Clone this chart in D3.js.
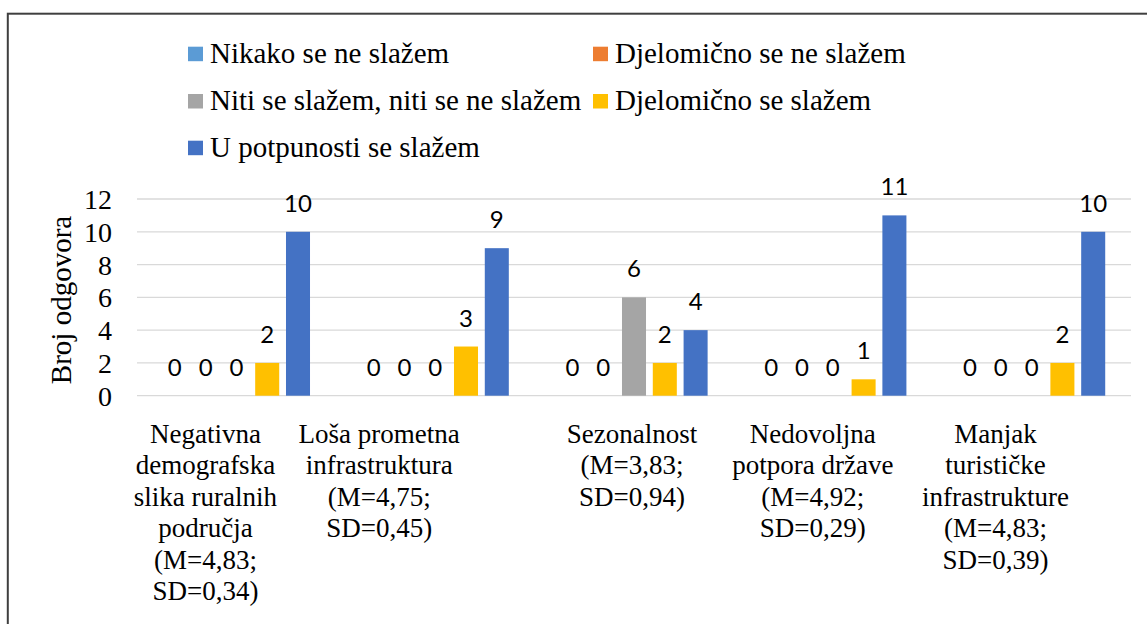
<!DOCTYPE html>
<html>
<head>
<meta charset="utf-8">
<script src="https://cdn.jsdelivr.net/npm/d3@7/dist/d3.min.js"></script>
<style>
  html, body { margin: 0; padding: 0; background: #fff; }
  svg { display: block; }
</style>
</head>
<body>
<div id="chart"></div>
<script>
// Categories (wrapped axis labels) and response counts per answer option
const categoryLines = [
  ["Negativna", "demografska", "slika ruralnih", "područja", "(M=4,83;", "SD=0,34)"],
  ["Loša prometna", "infrastruktura", "(M=4,75;", "SD=0,45)"],
  ["Sezonalnost", "(M=3,83;", "SD=0,94)"],
  ["Nedovoljna", "potpora države", "(M=4,92;", "SD=0,29)"],
  ["Manjak", "turističke", "infrastrukture", "(M=4,83;", "SD=0,39)"]
];
const categories = categoryLines.map(l => l.join(" "));

const seriesNames = [
  "Nikako se ne slažem",
  "Djelomično se ne slažem",
  "Niti se slažem, niti se ne slažem",
  "Djelomično se slažem",
  "U potpunosti se slažem"
];
const seriesColors = ["#5B9BD5", "#ED7D31", "#A5A5A5", "#FFC000", "#4472C4"];

const nikako      = [0, 0, 0, 0, 0];
const djelomNe    = [0, 0, 0, 0, 0];
const niti        = [0, 0, 6, 0, 0];
const djelomDa    = [2, 3, 2, 1, 2];
const potpuno     = [10, 9, 4, 11, 10];
const seriesValues = [nikako, djelomNe, niti, djelomDa, potpuno];

const yTicks = [0, 2, 4, 6, 8, 10, 12];

// Horizontal nudges for the wrapped category label blocks
const labelNudge = [-31, -56, -2, -20, -36];

const W = 1147, H = 624;
const SERIF = '"Liberation Serif"';
const SANS = '"Lato"';

const svg = d3.select("#chart").append("svg")
  .attr("width", W).attr("height", H);

svg.append("rect").attr("width", W).attr("height", H).attr("fill", "#fff");

// Outer chart frame
svg.append("rect")
  .attr("x", 7.8).attr("y", 13.7)
  .attr("width", W + 20).attr("height", H + 20)
  .attr("fill", "none").attr("stroke", "#3f3f3f").attr("stroke-width", 2);

const plotLeft = 137, plotRight = 1131;
const y = d3.scaleLinear().domain([0, 12]).range([395.7, 199]);
const x0 = d3.scaleBand().domain(categories).range([plotLeft, plotRight]).padding(0);
const step = 30.8;
const x1 = d3.scaleBand().domain(seriesNames)
  .range([-step * seriesNames.length / 2, step * seriesNames.length / 2])
  .paddingInner(0.22).paddingOuter(0.11);

// Gridlines
svg.append("g").selectAll("line").data(yTicks).join("line")
  .attr("x1", plotLeft).attr("x2", plotRight)
  .attr("y1", d => y(d)).attr("y2", d => y(d))
  .attr("stroke", "#d9d9d9").attr("stroke-width", 1.3);

// Y axis tick labels
const yAxis = d3.axisLeft(y).tickValues(yTicks).tickSize(0).tickPadding(0);
const yg = svg.append("g").attr("transform", "translate(112,0)").call(yAxis);
yg.attr("font-family", null).attr("font-size", null);
yg.select(".domain").remove();
yg.selectAll("text")
  .style("font-family", SERIF).style("font-size", "28px").attr("fill", "#000")
  .attr("dy", "0.34em");

// Y axis title
svg.append("text")
  .attr("transform", "translate(70.7,300) rotate(-90)")
  .attr("text-anchor", "middle")
  .style("font-family", SERIF).style("font-size", "29px").attr("fill", "#000")
  .text("Broj odgovora");

// Bars and value labels
const cells = [];
categories.forEach((c, ci) => {
  seriesNames.forEach((s, si) => {
    cells.push({ c, s, si, v: seriesValues[si][ci] });
  });
});

svg.append("g").selectAll("rect").data(cells.filter(d => d.v > 0)).join("rect")
  .attr("x", d => x0(d.c) + x0.bandwidth() / 2 + x1(d.s))
  .attr("y", d => y(d.v))
  .attr("width", x1.bandwidth())
  .attr("height", d => y(0) - y(d.v))
  .attr("fill", d => seriesColors[d.si]);

svg.append("g").selectAll("text").data(cells).join("text")
  .attr("x", d => x0(d.c) + x0.bandwidth() / 2 + x1(d.s) + x1.bandwidth() / 2)
  .attr("y", d => y(d.v) - 20)
  .attr("text-anchor", "middle")
  .style("font-family", SANS).style("font-size", "24px").attr("fill", "#000")
  .text(d => d.v);

// Category labels
const catG = svg.append("g").selectAll("text").data(categories).join("text")
  .attr("text-anchor", "middle")
  .style("font-family", SERIF).style("font-size", "27px").attr("fill", "#000");
catG.each(function (c, i) {
  const cx = x0(c) + x0.bandwidth() / 2 + labelNudge[i];
  d3.select(this).selectAll("tspan").data(categoryLines[i]).join("tspan")
    .attr("x", cx)
    .attr("y", (d, j) => 442.7 + j * 31.5)
    .text(d => d);
});

// Legend (two columns, filled row by row)
const legendCols = [188, 593];
const legendRows = [62.7, 110, 156.7];
const lg = svg.append("g").selectAll("g").data(seriesNames).join("g")
  .attr("transform", (d, i) => `translate(${legendCols[i % 2]},${legendRows[Math.floor(i / 2)]})`);
lg.append("rect")
  .attr("x", 0).attr("y", -16).attr("width", 15).attr("height", 14.5)
  .attr("fill", (d, i) => seriesColors[i]);
lg.append("text")
  .attr("x", 22).attr("y", 0)
  .style("font-family", SERIF).style("font-size", "29px").attr("fill", "#000")
  .text(d => d);
</script>
</body>
</html>
